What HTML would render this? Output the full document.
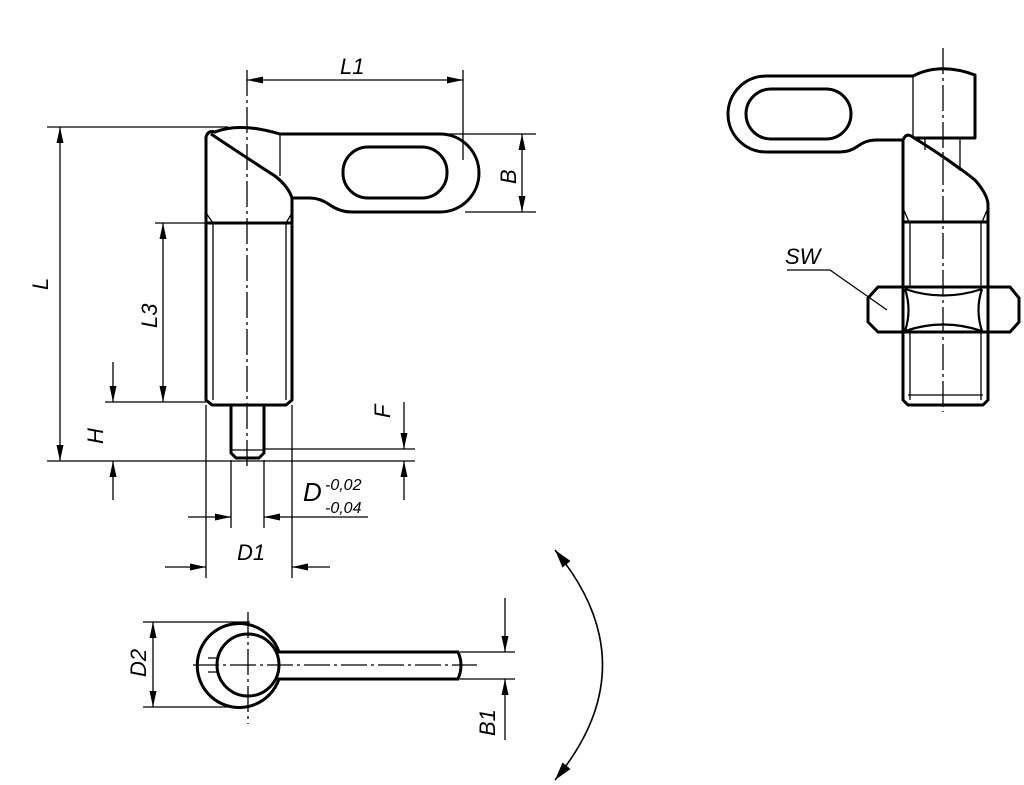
<!DOCTYPE html>
<html><head><meta charset="utf-8"><style>html,body{margin:0;padding:0;background:#fff}svg{display:block}</style></head>
<body>
<svg width="1024" height="785" viewBox="0 0 1024 785" xmlns="http://www.w3.org/2000/svg" font-family="Liberation Sans, sans-serif" font-style="italic">
<g fill="none" stroke="#000">
<!-- main view part -->
<g stroke-width="3" stroke-linejoin="round">
<path d="M206,400 L206,137 Q208,130 215,132 Q240,122 280,134 L440,134 A39,39 0 0 1 440,212 L352,212 Q340,212 330,205 Q320,198 310,198 L292,198 L292,400 L286,405 L212,405 Z"/>
<path d="M211,134 Q250,160 275,176 Q288,186 292,198"/>
<path d="M206,223 L292,223"/>
<rect x="343" y="147" width="104" height="51" rx="25"/>
<path d="M231,405 L231,453 L236,458 L259,458 L264,453 L264,405"/>
</g>
<g stroke-width="1.3">
<path d="M280,134 L280,176"/><path d="M213,223 L213,400 M286,223 L286,400"/>
<path d="M206,213 L213,223 M292,213 L286,223"/>
<path d="M231,450 L264,450"/>
<path d="M247,70 L247,470" stroke-dasharray="26,4,3,4"/>
<path d="M247,80 L463,80"/>
<path d="M463,70 L463,160"/>
<path d="M440,134 L536,134 M465,212 L536,212"/>
<path d="M522,134 L522,212"/>
<path d="M47,127 L228,127 M47,461 L415,461"/>
<path d="M60,127 L60,461"/>
<path d="M155,223 L206,223 M105,402 L206,402"/>
<path d="M163,223 L163,402"/>
<path d="M113,362 L113,402"/><path d="M113,500 L113,461"/>
<path d="M264,449 L415,449"/>
<path d="M404,402 L404,449"/><path d="M404,500 L404,461"/>
<path d="M206,405 L206,578 M292,405 L292,578 M231,460 L231,528 M264,460 L264,528"/>
<path d="M188,517 L231,517"/><path d="M368,517 L264,517"/>
<path d="M165,567 L206,567"/><path d="M330,567 L292,567"/>
</g>
<!-- bottom view -->
<g stroke-width="3">
<path d="M279,652 A42,42 0 1 0 279,679 L458,679 Q464,665 458,652 Z"/>
<circle cx="248" cy="665" r="31"/>
</g>
<g stroke-width="1.3">
<path d="M248,612 L248,724 M193,665 L477,665" stroke-dasharray="26,4,3,4"/>
<path d="M208,658 L217,658 M208,672 L217,672"/>
<path d="M143,622 L250,622 M143,707 L250,707"/>
<path d="M153,622 L153,707"/>
<path d="M460,652 L515,652 M460,679 L515,679"/>
<path d="M505,598 L505,652"/><path d="M505,740 L505,679"/>
<path d="M555,550 Q650,665 555,780" stroke-width="1.6"/>
</g>
<!-- right view -->
<g stroke-width="3" stroke-linejoin="round">
<path d="M913,76 L766,76 A38,38 0 0 0 766,152 L840,152 Q850,152 858,146 Q866,140 876,140 L903,140"/>
<path d="M913,76 Q940,62 975,75 L975,138 L913,138"/>
<rect x="746" y="89" width="105" height="50" rx="25"/>
<path d="M903,400 L903,140 Q906,133 911,136 Q950,160 975,180 Q988,195 988,205 L988,400 L983,405 L908,405 Z"/>
<path d="M903,222 L988,222"/>
<path d="M878,287 L1010,287 L1019,298 L1019,322 L1010,332 L878,332 L868,322 L868,298 Z"/>
</g>
<g stroke-width="1.3">
<path d="M913,76 L913,138"/><path d="M910,136 Q940,155 960,170 L960,138 M925,138 L925,150"/>
<path d="M903,208 L909,222 M988,208 L982,222"/>
<path d="M910,222 L910,287 M981,222 L981,287 M910,332 L910,400 M981,332 L981,400 M908,395 L983,395"/>
<g stroke-width="2.2"><path d="M905,289 Q912,310 905,331 M982,289 Q975,310 982,331 M905,289 Q943,302 982,289 M905,331 Q943,318 982,331"/></g>
<path d="M943,48 L943,412" stroke-dasharray="26,4,3,4"/>
<path d="M787,270 L830,270 L887,310"/>
</g>
</g>
<g fill="#000">
<polygon points="247,80 263,76.5 263,83.5"/><polygon points="463,80 447,76.5 447,83.5"/>
<polygon points="522,134 518.5,150 525.5,150"/><polygon points="522,212 518.5,196 525.5,196"/>
<polygon points="60,127 56.5,143 63.5,143"/><polygon points="60,461 56.5,445 63.5,445"/>
<polygon points="163,223 159.5,239 166.5,239"/><polygon points="163,402 159.5,386 166.5,386"/>
<polygon points="113,402 109.5,386 116.5,386"/><polygon points="113,461 109.5,477 116.5,477"/>
<polygon points="404,449 400.5,433 407.5,433"/><polygon points="404,461 400.5,477 407.5,477"/>
<polygon points="231,517 215,513.5 215,520.5"/><polygon points="264,517 280,513.5 280,520.5"/>
<polygon points="206,567 190,563.5 190,570.5"/><polygon points="292,567 308,563.5 308,570.5"/>
<polygon points="153,622 149.5,638 156.5,638"/><polygon points="153,707 149.5,691 156.5,691"/>
<polygon points="505,652 501.5,636 508.5,636"/><polygon points="505,679 501.5,695 508.5,695"/>
<polygon points="555,550 570.5,561 562.5,567.5"/><polygon points="555,780 570.5,769 562.5,762.5"/>
</g>
<g font-size="22" fill="#000">
<text x="340" y="74">L1</text>
<text transform="translate(516,184) rotate(-90)">B</text>
<text transform="translate(48,290) rotate(-90)">L</text>
<text transform="translate(157,328) rotate(-90)">L3</text>
<text transform="translate(103,444) rotate(-90)">H</text>
<text transform="translate(390,418) rotate(-90)">F</text>
<text x="303" y="501" font-size="26">D</text>
<text x="325" y="490" font-size="16">-0,02</text>
<text x="325" y="513" font-size="16">-0,04</text>
<text x="237" y="560">D1</text>
<text transform="translate(146,677) rotate(-90)">D2</text>
<text transform="translate(495,736) rotate(-90)">B1</text>
<text x="785" y="264">SW</text>
</g>
</svg>
</body></html>
